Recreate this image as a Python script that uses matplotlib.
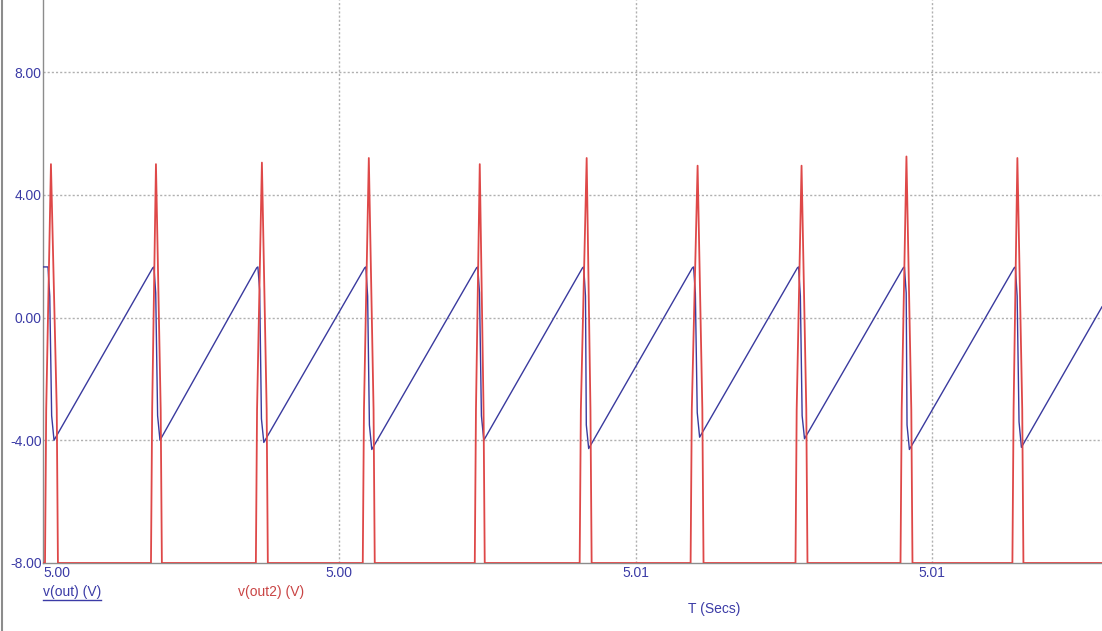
import matplotlib
matplotlib.use("Agg")
import matplotlib.pyplot as plt
from matplotlib.lines import Line2D
import numpy as np

plt.rcParams['font.family'] = ['Liberation Sans', 'DejaVu Sans']

# ---- data (time in ms after 5 s, values in V) ----
T0 = 5.0
t_end = 8.935

# v(out): sawtooth vertices per cycle
blue_start_v = 1.65
blue_top_t = [0.025, 0.926, 1.803, 2.714, 3.658, 4.552, 5.479, 6.365, 7.258, 8.194]
blue_top_v = [1.65, 1.62, 1.62, 1.62, 1.62, 1.62, 1.62, 1.62, 1.62, 1.62]
blue_peak_t = [0.042, 0.936, 1.813, 2.724, 3.668, 4.562, 5.489, 6.375, 7.268, 8.204]
blue_peak_v = [1.65, 1.65, 1.65, 1.65, 1.65, 1.65, 1.65, 1.65, 1.65, 1.65]
blue_knee1_t = [0.057, 0.951, 1.828, 2.739, 3.683, 4.577, 5.504, 6.390, 7.283, 8.219]
blue_knee1_v = [0.7, 0.8, 0.9, 0.7, 0.8, 0.7, 0.8, 0.7, 0.8, 0.7]
blue_knee2_t = [0.073, 0.967, 1.843, 2.754, 3.699, 4.584, 5.520, 6.405, 7.290, 8.235]
blue_knee2_v = [-3.2, -3.2, -3.3, -3.5, -3.2, -3.5, -3.1, -3.2, -3.5, -3.4]
blue_min_t = [0.093, 0.987, 1.863, 2.774, 3.719, 4.604, 5.540, 6.425, 7.310, 8.255]
blue_min_v = [-4.0, -4.0, -4.07, -4.3, -4.0, -4.27, -3.9, -3.95, -4.3, -4.23]
blue_end_v = 0.35

# v(out2): spikes from the -8 V rail
red_base_v = -8.0
red_base_l = [0.017, 0.911, 1.796, 2.698, 3.643, 4.528, 5.464, 6.349, 7.235, 8.179]
red_sh_l = [0.027, 0.921, 1.806, 2.708, 3.653, 4.538, 5.474, 6.359, 7.245, 8.189]
red_sh_v = -3.0
red_peak_t = [0.067, 0.953, 1.847, 2.749, 3.685, 4.587, 5.523, 6.400, 7.285, 8.221]
red_peak_v = [5.0, 5.0, 5.05, 5.2, 5.0, 5.2, 4.95, 4.95, 5.25, 5.2]
red_sh_r = [0.116, 0.993, 1.887, 2.789, 3.717, 4.619, 5.563, 6.440, 7.326, 8.262]
red_base_r = [0.126, 1.003, 1.897, 2.799, 3.727, 4.629, 5.573, 6.450, 7.336, 8.272]

x_ticks = [0.0, 2.5, 5.0, 7.5]
x_labels = ["5.00", "5.00", "5.01", "5.01"]
y_ticks = [-8, -4, 0, 4, 8]
y_labels = ["-8.00", "-4.00", "0.00", "4.00", "8.00"]

# ---- build traces ----
bt = [0.0]
bv = [blue_start_v]
for i in range(len(blue_peak_t)):
    if i > 0:
        bt.append(blue_top_t[i])
        bv.append(blue_top_v[i])
    bt += [blue_peak_t[i], blue_knee1_t[i], blue_knee2_t[i], blue_min_t[i]]
    bv += [blue_peak_v[i], blue_knee1_v[i], blue_knee2_v[i], blue_min_v[i]]
bt.append(t_end)
bv.append(blue_end_v)

rt = [0.0]
rv = [red_base_v]
for i in range(len(red_peak_t)):
    rt += [red_base_l[i], red_sh_l[i], red_peak_t[i], red_sh_r[i], red_base_r[i]]
    rv += [red_base_v, red_sh_v, red_peak_v[i], red_sh_v, red_base_v]
rt.append(t_end)
rv.append(red_base_v)

bt = T0 + np.array(bt) / 1000.0
rt = T0 + np.array(rt) / 1000.0

W, H = 1102, 631
fig = plt.figure(figsize=(W / 100, H / 100), dpi=100)
fig.patch.set_facecolor('white')
ax = fig.add_axes([43 / W, (H - 563) / H, 1 - 43 / W, 563 / H])

blue = '#3a3a9e'
red = '#de4848'
txt_blue = '#3b3ba6'
txt_red = '#c94444'
gridc = '#b0b0b0'

ax.plot(bt, bv, color=blue, lw=1.0, zorder=3)
ax.plot(rt, rv, color=red, lw=1.3, zorder=4)

ax.set_xlim(T0, T0 + t_end / 1000.0)
ax.set_ylim(-8, 10.35)

ax.set_yticks(y_ticks)
ax.set_yticklabels(y_labels)
ax.set_xticks([T0 + v / 1000.0 for v in x_ticks])
ax.set_xticklabels(x_labels)
ax.tick_params(length=0, labelsize=10, colors=txt_blue)
ax.tick_params(axis='y', pad=1)
ax.tick_params(axis='x', pad=2.5)
ax.get_xticklabels()[0].set_horizontalalignment('left')

for v in y_ticks[1:]:
    ax.axhline(v, color=gridc, lw=1, ls=(0, (1.5, 1.5)), zorder=1)
for v in x_ticks[1:]:
    ax.axvline(T0 + v / 1000.0, color=gridc, lw=1, ls=(0, (1.5, 1.5)), zorder=1)

for s in ['top', 'right']:
    ax.spines[s].set_visible(False)
ax.spines['left'].set_color('#8c8c8c')
ax.spines['bottom'].set_color('#8c8c8c')
ax.spines['left'].set_linewidth(1.0)
ax.spines['bottom'].set_linewidth(1.0)

# window border at left
fig.add_artist(Line2D([2 / W, 2 / W], [0, 1], color='#8c8c8c', lw=1.5))

# legend / axis title texts
t1 = fig.text(43 / W, 1 - 592 / H, "v(out) (V)", color=txt_blue, fontsize=10,
              ha='left', va='center')
fig.text(238 / W, 1 - 592 / H, "v(out2) (V)", color=txt_red, fontsize=10,
         ha='left', va='center')
fig.text(714 / W, 1 - 609 / H, "T (Secs)", color=txt_blue, fontsize=10,
         ha='center', va='center')

fig.canvas.draw()
bb = t1.get_window_extent()
fig.add_artist(Line2D([bb.x0 / W, bb.x1 / W], [(bb.y0 - 0.5) / H, (bb.y0 - 0.5) / H],
                      color=txt_blue, lw=1.0))

fig.savefig("out.png", dpi=100, facecolor='white')
